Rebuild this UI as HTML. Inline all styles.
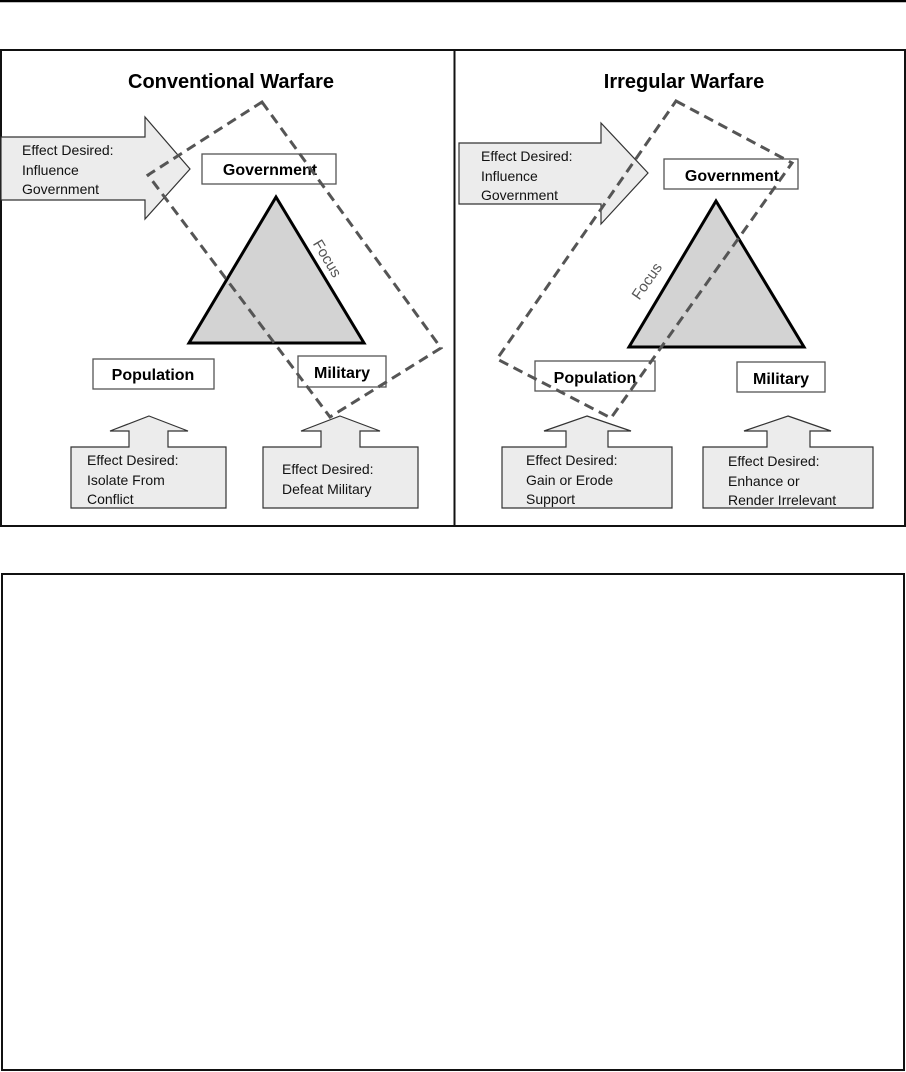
<!DOCTYPE html>
<html><head><meta charset="utf-8"><style>
html,body{margin:0;padding:0;background:#fff;}
svg{display:block;}
text{font-family:"Liberation Sans",Arial,sans-serif;}
.t{font-size:20px;font-weight:bold;fill:#000;}
.b{font-size:16px;font-weight:bold;fill:#000;}
.s{font-size:14px;fill:#111;}
.box{fill:#fff;stroke:#555;stroke-width:1.3;}
.arr{fill:#ececec;stroke:#333;stroke-width:1.2;}
.tri{fill:#d3d3d3;stroke:#000;stroke-width:3;stroke-linejoin:miter;}
.dash{fill:none;stroke:#555;stroke-width:3;stroke-dasharray:10 6;}
.f{font-size:15px;fill:#555;}
</style></head><body>
<svg width="906" height="1072" viewBox="0 0 906 1072" xmlns="http://www.w3.org/2000/svg">
<line x1="0" y1="1" x2="906" y2="1" stroke="#000" stroke-width="2.5"/>
<rect x="1" y="50" width="904" height="476" fill="#fff" stroke="#111" stroke-width="2"/>
<line x1="454.5" y1="50" x2="454.5" y2="526" stroke="#111" stroke-width="2"/>

<!-- Left panel -->
<text class="t" x="231" y="88" text-anchor="middle">Conventional Warfare</text>
<polygon class="arr" points="1,137 145,137 145,117 190,169 145,219 145,200 1,200"/>
<text class="s" x="22" y="155">Effect Desired:</text>
<text class="s" x="22" y="175">Influence</text>
<text class="s" x="22" y="194">Government</text>
<rect class="box" x="202" y="154" width="134" height="30"/>
<text class="b" x="270" y="175" text-anchor="middle">Government</text>
<polygon class="tri" points="276,197 189,343 364,343"/>
<rect class="box" x="93" y="359" width="121" height="30"/>
<text class="b" x="153" y="380" text-anchor="middle">Population</text>
<rect class="box" x="298" y="356" width="88" height="31"/>
<text class="b" x="342" y="378" text-anchor="middle">Military</text>
<polygon class="dash" points="262,102 441,348 330,417 148,175"/>
<text class="f" x="0" y="0" text-anchor="middle" transform="translate(323,261) rotate(59)">Focus</text>
<polygon class="arr" points="149,416 188,431 168,431 168,447 226,447 226,508 71,508 71,447 129,447 129,431 110,431"/>
<text class="s" x="87" y="465">Effect Desired:</text>
<text class="s" x="87" y="485">Isolate From</text>
<text class="s" x="87" y="504">Conflict</text>
<polygon class="arr" points="340,416 380,431 360,431 360,447 418,447 418,508 263,508 263,447 321,447 321,431 301,431"/>
<text class="s" x="282" y="474">Effect Desired:</text>
<text class="s" x="282" y="494">Defeat Military</text>

<!-- Right panel -->
<text class="t" x="684" y="88" text-anchor="middle">Irregular Warfare</text>
<polygon class="arr" points="459,143 601,143 601,123 648,173 601,224 601,204 459,204"/>
<text class="s" x="481" y="161">Effect Desired:</text>
<text class="s" x="481" y="181">Influence</text>
<text class="s" x="481" y="200">Government</text>
<rect class="box" x="664" y="159" width="134" height="30"/>
<text class="b" x="732" y="181" text-anchor="middle">Government</text>
<polygon class="tri" points="716,201 629,347 804,347"/>
<rect class="box" x="535" y="361" width="120" height="30"/>
<text class="b" x="595" y="383" text-anchor="middle">Population</text>
<rect class="box" x="737" y="362" width="88" height="30"/>
<text class="b" x="781" y="384" text-anchor="middle">Military</text>
<polygon class="dash" points="676,101 792,163 611,418 497,359"/>
<text class="f" x="0" y="0" text-anchor="middle" transform="translate(651,284) rotate(-55)">Focus</text>
<polygon class="arr" points="587,416 631,431 608,431 608,447 672,447 672,508 502,508 502,447 566,447 566,431 544,431"/>
<text class="s" x="526" y="465">Effect Desired:</text>
<text class="s" x="526" y="485">Gain or Erode</text>
<text class="s" x="526" y="504">Support</text>
<polygon class="arr" points="788,416 831,431 810,431 810,447 873,447 873,508 703,508 703,447 767,447 767,431 744,431"/>
<text class="s" x="728" y="466">Effect Desired:</text>
<text class="s" x="728" y="486">Enhance or</text>
<text class="s" x="728" y="505">Render Irrelevant</text>

<!-- Bottom empty box -->
<rect x="2" y="574" width="902" height="496" fill="#fff" stroke="#111" stroke-width="2"/>
</svg>
</body></html>
